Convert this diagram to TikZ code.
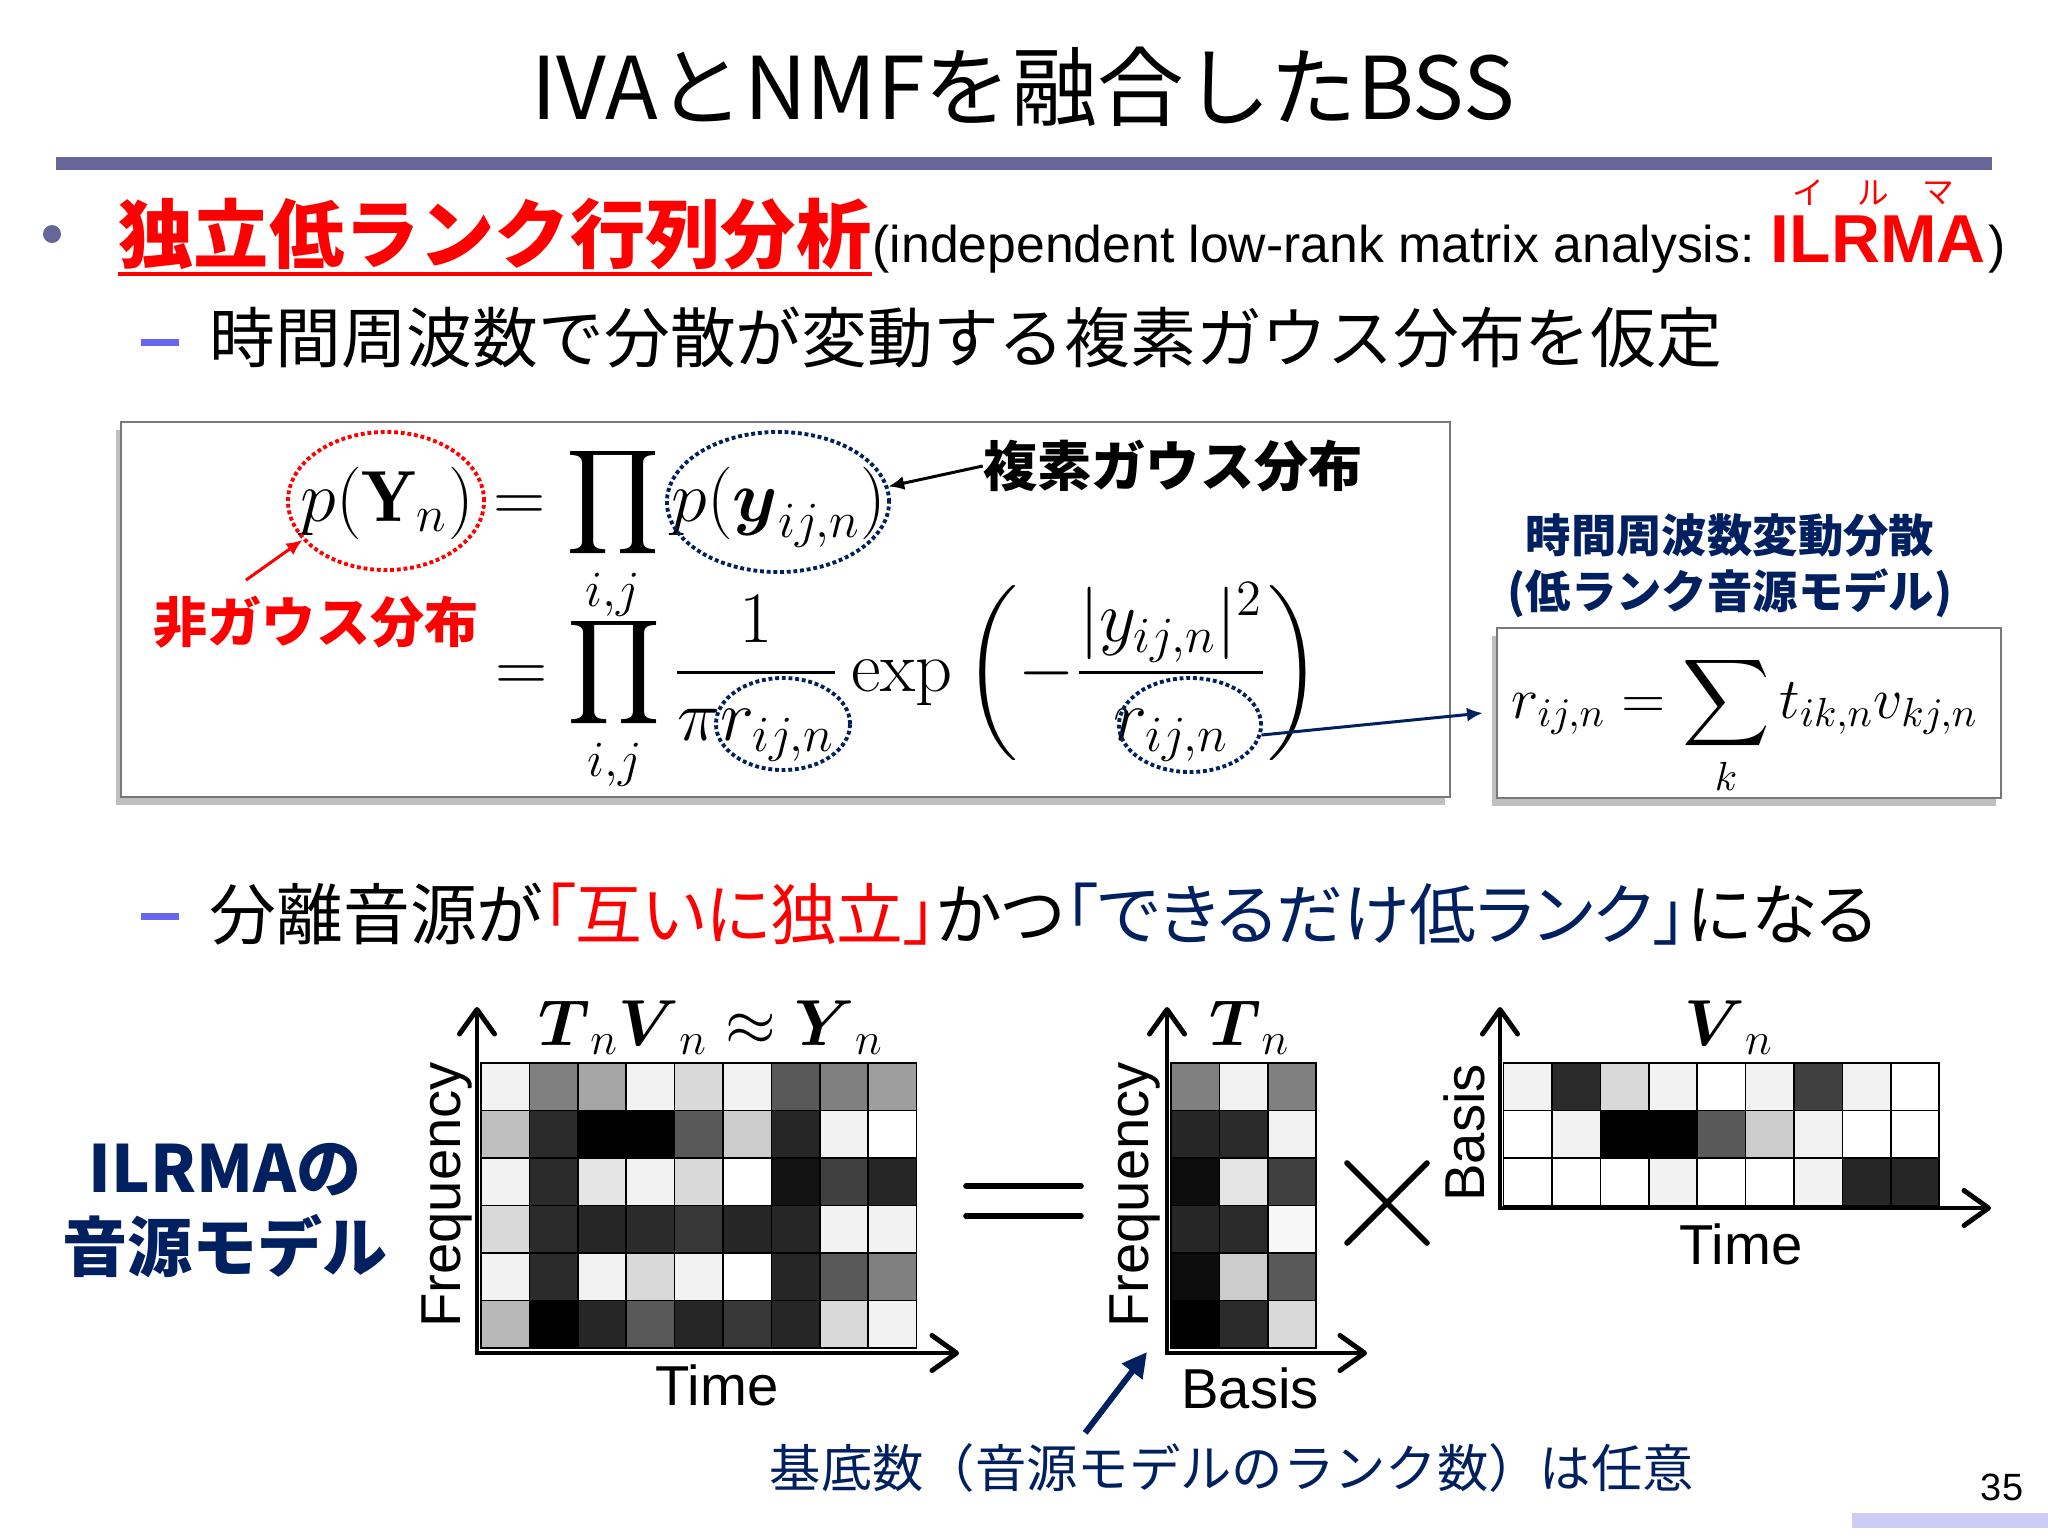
\RequirePackage{fix-cm}
\documentclass[tikz,border=0pt]{standalone}
\usepackage{amsmath}
\usepackage{fontspec}
\newfontfamily\jpfont{Noto Sans CJK JP}
\newfontfamily\jppfont{Noto Sans CJK JP}[RawFeature=+palt]
\newfontfamily\arialfont{Liberation Sans}
\usetikzlibrary{arrows.meta, positioning, shapes.geometric, shadows}

\definecolor{ilnavy}{RGB}{0,32,96}
\definecolor{barslate}{RGB}{102,102,153}
\definecolor{dashblue}{RGB}{102,102,238}
\definecolor{pagelav}{RGB}{204,204,245}
\definecolor{framegray}{RGB}{120,120,120}

\newcommand{\setfs}[1]{\fontsize{#1}{#1}\selectfont}
% gray cells: top-left corner, rows of white percentages
\newcommand{\graycells}[3]{%
  \foreach \cellrow [count=\ri from 0] in {#3} {
    \foreach \cellval [count=\ci from 0] in \cellrow {
      \filldraw[white!\cellval!black, draw=black, line width=0.5pt] (#1+48.4*\ci,#2+47.5*\ri) rectangle ++(48.4,47.5);
    }
  }}

\begin{document}
\begin{tikzpicture}[x=0.01cm, y=-0.01cm,
  lbl/.style={inner sep=0pt},
  box/.style={draw=framegray, fill=white, line width=0.6pt, inner sep=0pt, drop shadow={shadow xshift=-1.4pt, shadow yshift=-2.3pt}},
  redring/.style={ellipse, draw=red, line width=1.1pt, dash pattern=on 1.1pt off 0.8pt, inner sep=0pt},
  bluering/.style={redring, draw=ilnavy},
  pointer/.style={-{Latex[length=4.5pt,width=4pt]}, line width=0.85pt},
  bigpointer/.style={-{Triangle[length=7pt,width=7pt]}, line width=1.7pt, ilnavy},
  axisline/.style={line width=1.4pt, arrows={Straight Barb[length=7pt,width=10pt,round]-Straight Barb[length=7pt,width=10pt,round]}},
  axislbl/.style={inner sep=0pt, font=\arialfont\setfs{16}},
  mattitle/.style={inner sep=0pt, anchor=base, font=\setfs{18.5}},
  opsign/.style={line width=1.6pt, line cap=round}
]
\fill[white] (0,0) rectangle (2048,1536);
\useasboundingbox (0,0) rectangle (2048,1536);

% title
\node[lbl, font=\jpfont\setfs{24.6}] (title) at (1023,87) {IVAとNMFを融合したBSS};
\fill[barslate] (56,157) rectangle (1992,170);

% first bullet
\fill[barslate] (52,234) circle (0.09cm);
\node[lbl, font=\jpfont\bfseries\setfs{21.4}, text=red, anchor=west] (ilrmajp) at (118,234) {独立低ランク行列分析};
\draw[red, line width=1.1pt] ([yshift=-0.03cm]ilrmajp.south west) -- ([yshift=-0.03cm]ilrmajp.south east);
\node[lbl, font=\arialfont\setfs{14.7}, anchor=base west] (ilrmaen) at (872,262) {(independent low-rank matrix analysis:};
\node[lbl, font=\arialfont\bfseries\setfs{19.3}, text=red, anchor=base west] (ilrmaabbr) at (1770,262) {ILRMA};
\node[lbl, font=\arialfont\setfs{14.7}, anchor=base west] (ilrmaclose) at (1988,262) {)};
\foreach \kana [count=\k] in {イ,ル,マ}
  \node[lbl, font=\jpfont\setfs{9}, text=red] (ruby\k) at (1743+65*\k,193) {\kana};

\fill[dashblue] (141,339) rectangle (179,346);
\node[lbl, font=\jpfont\setfs{18.7}, anchor=west] (assume) at (209,338) {時間周波数で分散が変動する複素ガウス分布を仮定};

% model formula
\node[box, minimum width=13.29cm, minimum height=3.75cm] (eqbox) at (785.5,609.5) {};
\node[lbl, font=\setfs{20.6}, anchor=base west] (eqline1) at (300,521) {$\displaystyle p(\mathbf{Y}_n)=\prod_{i,j}p(\boldsymbol{y}_{ij,n})$};
\node[lbl, font=\setfs{20.6}, anchor=base west] (eqline2) at (495,691) {$\displaystyle =\prod_{i,j}\frac{1}{\pi r_{ij,n}}\exp\left(-\frac{|y_{ij,n}|^2}{r_{ij,n}}\right)$};
\node[redring, minimum width=1.96cm, minimum height=1.38cm] (ringY) at (386,501) {};
\node[bluering, minimum width=2.22cm, minimum height=1.40cm] (ringy) at (778,502) {};
\node[bluering, minimum width=1.34cm, minimum height=0.92cm] (ringr1) at (783,724) {};
\node[bluering, minimum width=1.42cm, minimum height=0.94cm] (ringr2) at (1190,725) {};
\node[lbl, font=\jpfont\bfseries\setfs{15.4}] (gausslbl) at (1173,466) {複素ガウス分布};
\node[lbl, font=\jpfont\bfseries\setfs{15.4}, text=red] (nongausslbl) at (316,622) {非ガウス分布};
\draw[pointer] (gausslbl.west) -- (ringy.8);
\draw[pointer, red] ([xshift=0.93cm, yshift=0.15cm]nongausslbl.north west) -- (ringY.205);

% variance model
\node[lbl, font=\jpfont\bfseries\fontsize{12.9}{15.9}\selectfont, text=ilnavy, align=center] (varlbl) at (1730,566) {時間周波数変動分散\\(低ランク音源モデル)};
\node[box, minimum width=5.04cm, minimum height=1.70cm] (varbox) at (1749,713) {};
\node[lbl, font=\setfs{16.5}, anchor=base] (varform) at (1745,718) {$\displaystyle r_{ij,n}=\sum_k t_{ik,n}v_{kj,n}$};
\draw[pointer, ilnavy] (ringr2.-8) -- ([xshift=-0.13cm]varbox.west);

% second bullet
\fill[dashblue] (141,913) rectangle (179,920);
\node[lbl, font=\jppfont\setfs{19}, anchor=west] (goal) at (209,914) {分離音源が\textcolor{red}{「互いに独立」}かつ\textcolor{ilnavy}{「できるだけ低ランク」}になる};

\node[lbl, font=\jpfont\bfseries\fontsize{18.5}{22.5}\selectfont, text=ilnavy, align=center] (modellbl) at (225,1211) {ILRMAの\\音源モデル};

% matrices
\graycells{481}{1063}{{95,50,65,95,85,95,35,50,62},{75,17,0,0,35,80,15,95,100},{95,17,90,95,85,100,7,25,15},{85,17,15,17,22,15,15,95,95},{95,17,95,85,95,100,15,35,50},{72,0,15,35,15,22,15,85,95}}
\graycells{1171}{1063}{{50,95,50},{15,17,95},{5,90,25},{15,17,97},{5,80,35},{0,17,85}}
\graycells{1503.6}{1063}{{95,17,85,95,100,95,25,95,100},{100,95,0,0,35,80,95,100,100},{100,100,100,95,100,100,95,15,15}}

\draw[axisline] (477,1007) -- (477,1353) -- (959,1353);
\draw[axisline] (1167,1007) -- (1167,1353) -- (1367,1353);
\draw[axisline] (1500,1007) -- (1500,1208) -- (1991,1208);

\node[mattitle] (prodtitle) at (711,1045) {$\boldsymbol{T}_n\boldsymbol{V}_n\approx\boldsymbol{Y}_n$};
\node[mattitle] (ttitle) at (1250,1045) {$\boldsymbol{T}_n$};
\node[mattitle] (vtitle) at (1729,1045) {$\boldsymbol{V}_n$};

\node[axislbl, rotate=90] (freqa) at (447,1195) {Frequency};
\node[axislbl] (timea) at (717,1385) {Time};
\node[axislbl, rotate=90] (freqb) at (1135,1195) {Frequency};
\node[axislbl] (basisb) at (1250,1388) {Basis};
\node[axislbl, rotate=90] (basisc) at (1464,1133) {Basis};
\node[axislbl] (timec) at (1741,1244) {Time};

\draw[opsign] (966,1186) -- (1081,1186);
\draw[opsign] (966,1216) -- (1081,1216);
\draw[opsign] (1347,1163) -- (1427,1243);
\draw[opsign] (1427,1163) -- (1347,1243);

% rank note
\node[lbl, font=\jpfont\setfs{14.6}, text=ilnavy, anchor=west] (basisnote) at (769,1468) {基底数（音源モデルのランク数）は任意};
\coordinate (basishead) at (1147,1352);
\draw[bigpointer] ([xshift=3.16cm, yshift=0.1cm]basisnote.north west) -- (basishead);

\node[lbl, font=\arialfont\setfs{10.8}] (pagenum) at (2002,1487) {35};
\fill[pagelav] (1852,1513) rectangle (2048,1528);
\end{tikzpicture}
\end{document}
